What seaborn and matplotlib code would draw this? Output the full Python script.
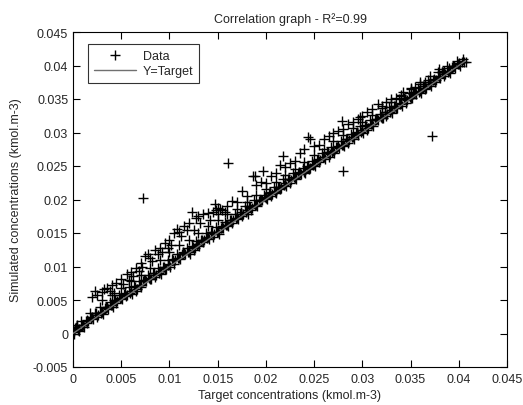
import matplotlib
matplotlib.use("Agg")
import matplotlib.pyplot as plt
import seaborn as sns
import pandas as pd

# ---------------- data (kmol.m-3) ----------------
main_target = [0.0000, 0.0005, 0.0010, 0.0015, 0.0020, 0.0025, 0.0030, 0.0035, 0.0040, 0.0045,
               0.0050, 0.0055, 0.0060, 0.0065, 0.0070, 0.0075, 0.0080, 0.0085, 0.0090, 0.0095,
               0.0100, 0.0105, 0.0110, 0.0115, 0.0120, 0.0125, 0.0130, 0.0135, 0.0140, 0.0145,
               0.0150, 0.0155, 0.0160, 0.0165, 0.0170, 0.0175, 0.0180, 0.0185, 0.0190, 0.0195,
               0.0200, 0.0205, 0.0210, 0.0215, 0.0220, 0.0225, 0.0230, 0.0235, 0.0240, 0.0245,
               0.0250, 0.0255, 0.0260, 0.0265, 0.0270, 0.0275, 0.0280, 0.0285, 0.0290, 0.0295,
               0.0300, 0.0305, 0.0310, 0.0315, 0.0320, 0.0325, 0.0330, 0.0335, 0.0340, 0.0345,
               0.0350, 0.0355, 0.0360, 0.0365, 0.0370, 0.0375, 0.0380, 0.0385, 0.0390, 0.0395,
               0.0400, 0.0405]
main_sim = [0.0002, 0.0005, 0.0013, 0.0016, 0.0024, 0.0024, 0.0032, 0.0040, 0.0042, 0.0045,
            0.0053, 0.0056, 0.0064, 0.0064, 0.0072, 0.0080, 0.0082, 0.0085, 0.0093, 0.0096,
            0.0104, 0.0104, 0.0112, 0.0120, 0.0122, 0.0125, 0.0133, 0.0136, 0.0144, 0.0144,
            0.0152, 0.0160, 0.0162, 0.0165, 0.0173, 0.0176, 0.0184, 0.0184, 0.0192, 0.0200,
            0.0202, 0.0205, 0.0213, 0.0216, 0.0224, 0.0224, 0.0232, 0.0240, 0.0242, 0.0245,
            0.0253, 0.0256, 0.0264, 0.0264, 0.0272, 0.0280, 0.0282, 0.0285, 0.0293, 0.0296,
            0.0304, 0.0304, 0.0312, 0.0320, 0.0322, 0.0325, 0.0333, 0.0336, 0.0344, 0.0344,
            0.0352, 0.0360, 0.0362, 0.0365, 0.0373, 0.0376, 0.0384, 0.0384, 0.0392, 0.0400,
            0.0402, 0.0405]

low_target = [0.0001, 0.0006, 0.0011, 0.0016, 0.0021, 0.0026, 0.0031, 0.0036, 0.0041, 0.0046,
              0.0051, 0.0056, 0.0061, 0.0066, 0.0071, 0.0076, 0.0081, 0.0086, 0.0091, 0.0096,
              0.0101, 0.0106, 0.0111, 0.0116, 0.0121, 0.0126, 0.0131, 0.0136, 0.0141, 0.0146,
              0.0151, 0.0156, 0.0161, 0.0166, 0.0171, 0.0176, 0.0181, 0.0186, 0.0191, 0.0196,
              0.0201, 0.0206, 0.0211, 0.0216, 0.0221, 0.0226, 0.0231, 0.0236, 0.0241, 0.0246,
              0.0251, 0.0256, 0.0261, 0.0266, 0.0271, 0.0276, 0.0281, 0.0286, 0.0291, 0.0296,
              0.0301, 0.0306, 0.0311, 0.0316, 0.0321, 0.0326, 0.0331, 0.0336, 0.0341, 0.0346,
              0.0351, 0.0356, 0.0361, 0.0366, 0.0371, 0.0376, 0.0381, 0.0386, 0.0391, 0.0396,
              0.0401]
low_sim = [0.0000, 0.0007, 0.0010, 0.0019, 0.0021, 0.0028, 0.0029, 0.0037, 0.0040, 0.0049,
           0.0051, 0.0058, 0.0059, 0.0067, 0.0070, 0.0079, 0.0081, 0.0088, 0.0089, 0.0097,
           0.0100, 0.0109, 0.0111, 0.0118, 0.0119, 0.0127, 0.0130, 0.0139, 0.0141, 0.0148,
           0.0149, 0.0157, 0.0160, 0.0169, 0.0171, 0.0178, 0.0179, 0.0187, 0.0190, 0.0199,
           0.0201, 0.0208, 0.0209, 0.0217, 0.0220, 0.0229, 0.0231, 0.0238, 0.0239, 0.0247,
           0.0250, 0.0259, 0.0261, 0.0268, 0.0269, 0.0277, 0.0280, 0.0289, 0.0291, 0.0298,
           0.0299, 0.0307, 0.0310, 0.0319, 0.0321, 0.0328, 0.0329, 0.0337, 0.0340, 0.0349,
           0.0351, 0.0358, 0.0359, 0.0367, 0.0370, 0.0379, 0.0381, 0.0388, 0.0389, 0.0397,
           0.0400]

near_target = [0.0004, 0.0009, 0.0014, 0.0019, 0.0024, 0.0029, 0.0034, 0.0039, 0.0044, 0.0049,
               0.0054, 0.0059, 0.0064, 0.0069, 0.0074, 0.0079, 0.0084, 0.0089, 0.0094, 0.0099,
               0.0104, 0.0109, 0.0114, 0.0119, 0.0124, 0.0129, 0.0134, 0.0139, 0.0144, 0.0149,
               0.0154, 0.0159, 0.0164, 0.0169, 0.0174, 0.0179, 0.0184, 0.0189, 0.0194, 0.0199,
               0.0204, 0.0209, 0.0214, 0.0219, 0.0224, 0.0229, 0.0234, 0.0239, 0.0244, 0.0249,
               0.0254, 0.0259, 0.0264, 0.0269, 0.0274, 0.0279, 0.0284, 0.0289, 0.0294, 0.0299,
               0.0304, 0.0309, 0.0314, 0.0319, 0.0324, 0.0329, 0.0334, 0.0339, 0.0344, 0.0349,
               0.0354, 0.0359, 0.0364, 0.0369, 0.0374, 0.0379, 0.0384, 0.0389, 0.0394, 0.0399,
               0.0404]
near_sim = [0.0009, 0.0012, 0.0020, 0.0023, 0.0031, 0.0031, 0.0039, 0.0042, 0.0050, 0.0053,
            0.0061, 0.0061, 0.0069, 0.0072, 0.0080, 0.0083, 0.0091, 0.0091, 0.0099, 0.0102,
            0.0110, 0.0113, 0.0121, 0.0121, 0.0129, 0.0132, 0.0140, 0.0143, 0.0151, 0.0151,
            0.0159, 0.0162, 0.0170, 0.0173, 0.0181, 0.0181, 0.0189, 0.0192, 0.0200, 0.0203,
            0.0211, 0.0211, 0.0219, 0.0222, 0.0230, 0.0233, 0.0241, 0.0241, 0.0249, 0.0252,
            0.0260, 0.0263, 0.0271, 0.0271, 0.0279, 0.0282, 0.0290, 0.0293, 0.0301, 0.0301,
            0.0309, 0.0312, 0.0320, 0.0323, 0.0331, 0.0331, 0.0339, 0.0342, 0.0350, 0.0353,
            0.0361, 0.0361, 0.0369, 0.0372, 0.0380, 0.0383, 0.0391, 0.0391, 0.0399, 0.0402,
            0.0409]

band_target = [0.0003, 0.0008, 0.0013, 0.0018, 0.0023, 0.0028, 0.0033, 0.0038, 0.0043, 0.0048,
               0.0053, 0.0058, 0.0063, 0.0068, 0.0073, 0.0078, 0.0083, 0.0088, 0.0093, 0.0098,
               0.0103, 0.0108, 0.0113, 0.0118, 0.0123, 0.0128, 0.0133, 0.0138, 0.0143, 0.0148,
               0.0153, 0.0158, 0.0163, 0.0168, 0.0173, 0.0178, 0.0183, 0.0188, 0.0193, 0.0198,
               0.0203, 0.0208, 0.0213, 0.0218, 0.0223, 0.0228, 0.0233, 0.0238, 0.0243, 0.0248,
               0.0253, 0.0258, 0.0263, 0.0268, 0.0273, 0.0278, 0.0283, 0.0288, 0.0293, 0.0298,
               0.0303, 0.0308, 0.0313, 0.0318, 0.0323, 0.0328, 0.0333, 0.0338, 0.0343, 0.0348,
               0.0353, 0.0358, 0.0363, 0.0368, 0.0373, 0.0378, 0.0383, 0.0388, 0.0393, 0.0398,
               0.0403]
band_sim = [0.0010, 0.0018, 0.0019, 0.0030, 0.0031, 0.0039, 0.0038, 0.0047, 0.0050, 0.0058,
            0.0059, 0.0070, 0.0071, 0.0079, 0.0078, 0.0087, 0.0090, 0.0098, 0.0099, 0.0110,
            0.0111, 0.0119, 0.0118, 0.0127, 0.0130, 0.0138, 0.0139, 0.0150, 0.0151, 0.0159,
            0.0158, 0.0167, 0.0170, 0.0178, 0.0179, 0.0190, 0.0191, 0.0199, 0.0198, 0.0207,
            0.0210, 0.0218, 0.0219, 0.0230, 0.0231, 0.0239, 0.0238, 0.0247, 0.0250, 0.0258,
            0.0259, 0.0270, 0.0271, 0.0279, 0.0278, 0.0287, 0.0290, 0.0298, 0.0299, 0.0310,
            0.0311, 0.0319, 0.0318, 0.0327, 0.0330, 0.0338, 0.0339, 0.0350, 0.0351, 0.0359,
            0.0358, 0.0367, 0.0370, 0.0378, 0.0379, 0.0390, 0.0391, 0.0399, 0.0398, 0.0407,
            0.0405]

mid_target = [0.0030, 0.0040, 0.0050, 0.0060, 0.0070, 0.0080, 0.0090, 0.0100, 0.0110, 0.0120,
              0.0130, 0.0140, 0.0150, 0.0160, 0.0170, 0.0180, 0.0190, 0.0200, 0.0210, 0.0220,
              0.0230, 0.0240, 0.0250, 0.0260, 0.0270, 0.0280, 0.0290, 0.0300, 0.0310, 0.0320,
              0.0330, 0.0340, 0.0350, 0.0360, 0.0370, 0.0380,
              0.0001, 0.0002, 0.0004, 0.0006]
mid_sim = [0.0050, 0.0058, 0.0068, 0.0078, 0.0088, 0.0098, 0.0110, 0.0122, 0.0132, 0.0140,
           0.0150, 0.0160, 0.0170, 0.0178, 0.0186, 0.0196, 0.0206, 0.0216, 0.0226, 0.0236,
           0.0246, 0.0256, 0.0267, 0.0276, 0.0287, 0.0296, 0.0306, 0.0316, 0.0326, 0.0336,
           0.0346, 0.0356, 0.0366, 0.0375, 0.0385, 0.0395,
           0.0004, 0.0008, 0.0012, 0.0003]

cluster_target = [0.0025, 0.0032, 0.0038, 0.0042, 0.0052, 0.0058, 0.0062, 0.0068, 0.0072, 0.0082,
                  0.0088, 0.0092, 0.0098, 0.0102, 0.0112, 0.0118, 0.0125, 0.0132, 0.0142, 0.0148,
                  0.0150, 0.0158]
cluster_sim = [0.0058, 0.0066, 0.0064, 0.0060, 0.0074, 0.0080, 0.0086, 0.0094, 0.0100, 0.0108,
               0.0118, 0.0122, 0.0128, 0.0132, 0.0145, 0.0155, 0.0155, 0.0165, 0.0170, 0.0185,
               0.0178, 0.0182]

upper_target = [0.0020, 0.0023, 0.0030, 0.0035, 0.0040, 0.0045, 0.0050, 0.0056, 0.0060, 0.0065,
                0.0070, 0.0075, 0.0078, 0.0080, 0.0085, 0.0090, 0.0095, 0.0100, 0.0105, 0.0108,
                0.0110, 0.0115, 0.0120, 0.0123, 0.0128, 0.0130, 0.0135, 0.0140, 0.0145, 0.0147,
                0.0150, 0.0152, 0.0155, 0.0160, 0.0165, 0.0170, 0.0175, 0.0180, 0.0187, 0.0189,
                0.0190, 0.0195, 0.0197, 0.0200, 0.0205, 0.0210, 0.0215, 0.0218, 0.0220, 0.0225,
                0.0230, 0.0235, 0.0240, 0.0244, 0.0246, 0.0250, 0.0255, 0.0260, 0.0265, 0.0270,
                0.0275, 0.0279, 0.0280, 0.0285, 0.0290, 0.0295, 0.0298, 0.0300, 0.0305, 0.0310,
                0.0316, 0.0320, 0.0325, 0.0330, 0.0335, 0.0340, 0.0342, 0.0350, 0.0355, 0.0360,
                0.0365, 0.0370, 0.0383, 0.0385, 0.0390, 0.0395, 0.0400, 0.0407]
upper_sim = [0.0055, 0.0063, 0.0062, 0.0068, 0.0072, 0.0075, 0.0082, 0.0089, 0.0092, 0.0098,
             0.0105, 0.0115, 0.0119, 0.0112, 0.0125, 0.0128, 0.0135, 0.0140, 0.0150, 0.0156,
             0.0152, 0.0160, 0.0165, 0.0181, 0.0172, 0.0176, 0.0178, 0.0180, 0.0182, 0.0193,
             0.0188, 0.0186, 0.0184, 0.0190, 0.0198, 0.0196, 0.0212, 0.0205, 0.0235, 0.0235,
             0.0222, 0.0226, 0.0243, 0.0225, 0.0235, 0.0240, 0.0252, 0.0265, 0.0248, 0.0255,
             0.0258, 0.0270, 0.0275, 0.0293, 0.0290, 0.0280, 0.0282, 0.0290, 0.0295, 0.0300,
             0.0302, 0.0317, 0.0305, 0.0312, 0.0315, 0.0320, 0.0323, 0.0325, 0.0330, 0.0335,
             0.0343, 0.0340, 0.0345, 0.0350, 0.0352, 0.0355, 0.0360, 0.0365, 0.0368, 0.0372,
             0.0376, 0.0375, 0.0390, 0.0392, 0.0396, 0.0400, 0.0403, 0.0405]

outlier_target = [0.0073, 0.0161, 0.0280, 0.0372]
outlier_sim = [0.0202, 0.0254, 0.0242, 0.0295]

x_ticks = [0, 0.005, 0.01, 0.015, 0.02, 0.025, 0.03, 0.035, 0.04, 0.045]
x_tick_labels = ["0", "0.005", "0.01", "0.015", "0.02", "0.025", "0.03", "0.035", "0.04", "0.045"]
y_ticks = [-0.005, 0, 0.005, 0.01, 0.015, 0.02, 0.025, 0.03, 0.035, 0.04, 0.045]
y_tick_labels = ["-0.005", "0", "0.005", "0.01", "0.015", "0.02", "0.025", "0.03", "0.035", "0.04", "0.045"]

title = "Correlation graph - R²=0.99"
x_label = "Target concentrations (kmol.m-3)"
y_label = "Simulated concentrations (kmol.m-3)"

# ---------------- figure ----------------
sns.set_theme(style="ticks")
plt.rcParams["font.family"] = ["Liberation Sans", "DejaVu Sans"]
plt.rcParams["font.size"] = 9

df = pd.DataFrame({
    "target": (main_target + low_target + near_target + band_target + mid_target
               + cluster_target + upper_target + outlier_target),
    "simulated": (main_sim + low_sim + near_sim + band_sim + mid_sim
                  + cluster_sim + upper_sim + outlier_sim),
})
line_df = pd.DataFrame({"target": [min(df["target"]), max(df["target"])]})
line_df["y"] = line_df["target"]

fig = plt.figure(figsize=(5.23, 4.06), dpi=100)
ax = fig.add_axes([73 / 523, 1 - 368 / 406, (507 - 73) / 523, (368 - 33) / 406])

TXT = "#262626"
sns.scatterplot(data=df, x="target", y="simulated", marker="+", s=62,
                color="black", linewidth=1.0, ax=ax, label="Data", zorder=2)
sns.lineplot(data=line_df, x="target", y="y", color="#707070", linewidth=1.0,
             ax=ax, label="Y=Target", zorder=3)

ax.set_xlim(0, 0.045)
ax.set_ylim(-0.005, 0.045)
ax.set_xticks(x_ticks)
ax.set_xticklabels(x_tick_labels)
ax.set_yticks(y_ticks)
ax.set_yticklabels(y_tick_labels)
ax.tick_params(direction="in", length=5, width=0.8, top=True, right=True,
               labelsize=9, colors="black", labelcolor=TXT)
ax.tick_params(axis="x", pad=4.5)
ax.tick_params(axis="y", pad=3.5)
for sp in ax.spines.values():
    sp.set_visible(True)
    sp.set_color("black")
    sp.set_linewidth(0.8)

ax.set_title(title, fontsize=9, color=TXT, pad=7)
ax.set_xlabel(x_label, fontsize=9, color=TXT, labelpad=3)
ax.set_ylabel(y_label, fontsize=9, color=TXT, labelpad=8)

leg = ax.legend(loc="upper left", bbox_to_anchor=(88 / 523, 1 - 45 / 406),
                bbox_transform=fig.transFigure, fontsize=9, frameon=True,
                fancybox=False, edgecolor="black", handlelength=3.4,
                borderpad=0.45, borderaxespad=0, labelspacing=0.3, handletextpad=0.55)
leg.get_frame().set_linewidth(0.8)

fig.savefig("out.png", dpi=100)
